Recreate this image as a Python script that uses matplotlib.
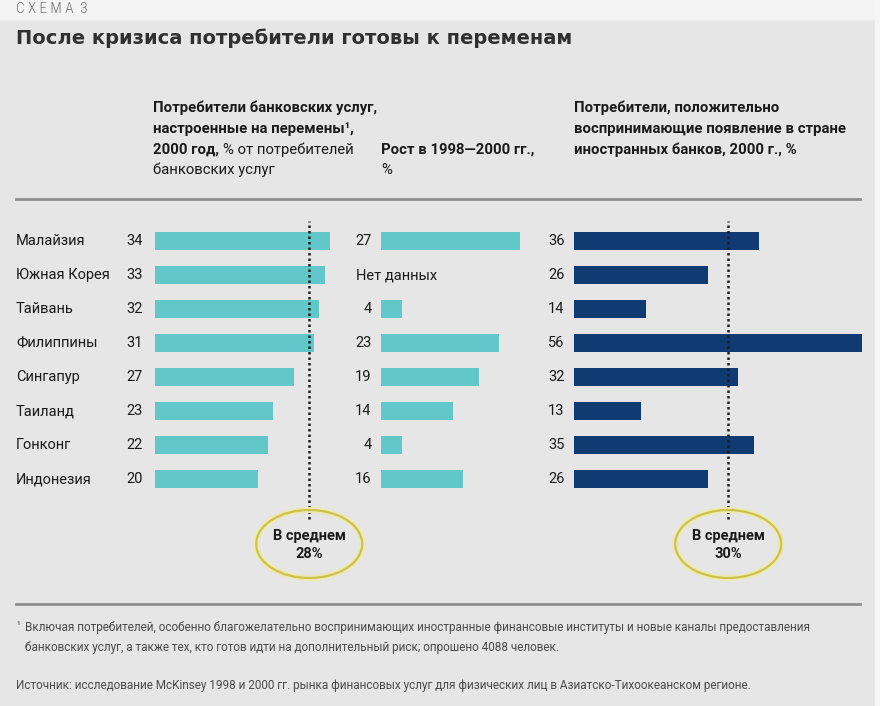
import numpy as np
import matplotlib
matplotlib.use('Agg')
import matplotlib.pyplot as plt
from matplotlib import transforms, font_manager
from matplotlib.patches import Ellipse, Rectangle

# ---- data
countries = ['Малайзия', 'Южная Корея', 'Тайвань', 'Филиппины',
             'Сингапур', 'Таиланд', 'Гонконг', 'Индонезия']
ready = [34, 33, 32, 31, 27, 23, 22, 20]
growth = [27, None, 4, 23, 19, 14, 4, 16]
foreign = [36, 26, 14, 56, 32, 13, 35, 26]
avg_ready = 28
avg_foreign = 30
avg_line = 30   # where the dotted line sits on the bar scale

teal = '#62c7c9'
navy = '#0f3a72'
bg = '#e6e6e6'

# ---- fonts
names = {}
for f in font_manager.fontManager.ttflist:
    names.setdefault(f.name, set()).add(str(f.stretch))

if 'Roboto Condensed' in names:
    NARROW = dict(family='Roboto Condensed')
elif 'condensed' in names.get('Roboto', set()):
    NARROW = dict(family='Roboto', stretch='condensed')
else:
    NARROW = dict(family='Liberation Sans')
MAIN = dict(family='Roboto') if 'Roboto' in names else dict(family='Liberation Sans')

W, H = 880, 706
fig = plt.figure(figsize=(W / 100, H / 100), dpi=100, facecolor=bg)


def fx(x):
    return x / W


def fy(y):
    return 1 - y / H


def box(x0, x1, y0, y1):
    return [fx(x0), fy(y1), (x1 - x0) / W, (y1 - y0) / H]


def ftext(x, y, s, font=MAIN, **kw):
    kw.setdefault('va', 'center')
    kw.setdefault('color', '#1a1a1a')
    for k, v in font.items():
        kw.setdefault(k, v)
    return fig.text(fx(x), fy(y), s, **kw)


# top light strip
fig.add_artist(Rectangle((0, fy(19)), 1, 19 / H, transform=fig.transFigure,
                         color='#f4f4f4', zorder=0))
fig.add_artist(Rectangle((fx(875), 0), 5 / W, 1, transform=fig.transFigure,
                         color='#f6f6f6', zorder=0))

ftext(16, 9, 'С Х Е М А  3', font=NARROW, fontsize=11, color='#707070',
      fontweight='light')
fig.text(fx(16), fy(38), 'После кризиса потребители готовы к переменам',
         fontsize=14, fontweight='bold', family='DejaVu Sans',
         color='#303030', va='center')

# headers
hs = 10.7
renderer = fig.canvas.get_renderer()
ftext(153, 108, 'Потребители банковских услуг,', fontsize=hs, fontweight='bold')
ftext(153, 129, 'настроенные на перемены¹,', fontsize=hs, fontweight='bold')
t = ftext(153, 150, '2000 год,', fontsize=hs, fontweight='bold')
bb = t.get_window_extent(renderer)
ftext(bb.x1 + 4, 150, '% от потребителей', fontsize=hs)
ftext(153, 170, 'банковских услуг', fontsize=hs)

ftext(381, 150, 'Рост в 1998—2000 гг.,', fontsize=hs, fontweight='bold')
ftext(381, 170, '%', fontsize=hs)

ftext(574, 108, 'Потребители, положительно', fontsize=hs, fontweight='bold')
ftext(574, 129, 'воспринимающие появление в стране', fontsize=hs, fontweight='bold')
ftext(574, 150, 'иностранных банков, 2000 г., %', fontsize=hs, fontweight='bold')

# rules
for yy in (199, 604):
    fig.add_artist(plt.Line2D([fx(16), fx(860)], [fy(yy), fy(yy)],
                              transform=fig.transFigure, color='#8e8e8e', lw=2))

# ---- bar panels
px = 5.14  # pixels per percent
y = np.arange(len(countries))

ax1 = fig.add_axes(box(155, 155 + 36 * px, 224, 496))
ax2 = fig.add_axes(box(381, 381 + 30 * px, 224, 496))
ax3 = fig.add_axes(box(574, 574 + 58 * px, 224, 496))
ax1.set_xlim(0, 36)
ax2.set_xlim(0, 30)
ax3.set_xlim(0, 58)
for ax in (ax1, ax2, ax3):
    ax.set_ylim(len(countries) - 0.5, -0.5)
    ax.axis('off')
    ax.patch.set_alpha(0)

ax1.barh(y, ready, height=0.54, color=teal)
gy = [i for i, g in enumerate(growth) if g is not None]
ax2.barh(gy, [growth[i] for i in gy], height=0.54, color=teal)
ax3.barh(y, foreign, height=0.54, color=navy)

fs = 10.5
lab = transforms.blended_transform_factory(fig.transFigure, ax1.transData)
for i, c in enumerate(countries):
    ax1.text(fx(16), i, c, transform=lab, va='center', fontsize=fs,
             color='#1a1a1a', **MAIN)
    ax1.text(-2.4, i, str(ready[i]), ha='right', va='center', fontsize=fs,
             color='#1a1a1a', **MAIN)
    if growth[i] is None:
        ax2.text(-4.8, i, 'Нет данных', ha='left', va='center', fontsize=fs,
                 color='#1a1a1a', **MAIN)
    else:
        ax2.text(-1.8, i, str(growth[i]), ha='right', va='center', fontsize=fs,
                 color='#1a1a1a', **MAIN)
    ax3.text(-1.8, i, str(foreign[i]), ha='right', va='center', fontsize=fs,
             color='#1a1a1a', **MAIN)

# average lines and bubbles
for ax, avg, cx in ((ax1, avg_ready, 155 + avg_line * px),
                    (ax3, avg_foreign, 574 + avg_line * px)):
    ax.axvline(avg_line, ymin=-0.085, ymax=1.012, clip_on=False,
               color='#1e1e1e', lw=1.8, linestyle=(0, (1, 1.2)))
    fig.add_artist(Ellipse((fx(cx), fy(544)), 106 / W, 68 / H,
                           transform=fig.transFigure, fill=False,
                           edgecolor='#eeeab8', lw=4.5, zorder=3))
    fig.add_artist(Ellipse((fx(cx), fy(544)), 106 / W, 68 / H,
                           transform=fig.transFigure, fill=False,
                           edgecolor='#cdc34a', lw=1.6, zorder=4))
    ftext(cx, 545, 'В среднем\n%d%%' % avg, ha='center', fontsize=fs,
          fontweight='bold', linespacing=1.3, zorder=5)

# footnotes
note_kw = dict(fontsize=8.5, color='#4a4a4a')
ftext(16, 625, '¹', fontsize=7, color='#4a4a4a')
ftext(25, 628, 'Включая потребителей, особенно благожелательно воспринимающих '
      'иностранные финансовые институты и новые каналы предоставления', **note_kw)
ftext(25, 647, 'банковских услуг, а также тех, кто готов идти на дополнительный '
      'риск; опрошено 4088 человек.', **note_kw)
ftext(16, 686, 'Источник: исследование McKinsey 1998 и 2000 гг. рынка финансовых '
      'услуг для физических лиц в Азиатско-Тихоокеанском регионе.', **note_kw)

fig.savefig('out.png', dpi=100, facecolor=bg)
